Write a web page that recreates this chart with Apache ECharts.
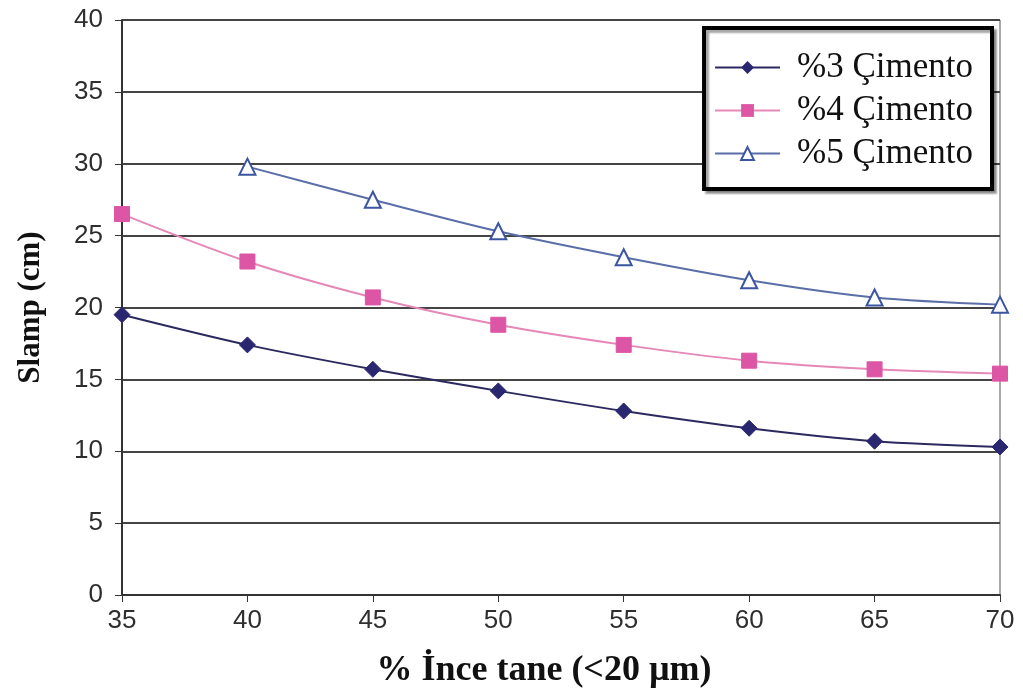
<!DOCTYPE html>
<html>
<head>
<meta charset="utf-8">
<script src="https://cdn.jsdelivr.net/npm/echarts@6/dist/echarts.min.js"></script>
<style>
html,body{margin:0;padding:0;background:#fff;}
#chart{width:1023px;height:698px;}
</style>
</head>
<body>
<div id="chart"></div>
<script>
// Fine-grain content (% < 20 µm) and measured slump (cm)
const fines = [35, 40, 45, 50, 55, 60, 65, 70];
const cement3 = [19.5, 17.4, 15.7, 14.2, 12.8, 11.6, 10.7, 10.3];
const cement4 = [26.5, 23.2, 20.7, 18.8, 17.4, 16.3, 15.7, 15.4];
const cement5 = [null, 29.8, 27.5, 25.3, 23.5, 21.9, 20.7, 20.2];
const seriesNames = ['%3 Çimento', '%4 Çimento', '%5 Çimento'];
const yTicks = [0, 5, 10, 15, 20, 25, 30, 35, 40];

const pairs = vals => fines.map((x, i) => [x, vals[i]]).filter(p => p[1] !== null);

const chart = echarts.init(document.getElementById('chart'));
chart.setOption({
  animation: false,
  backgroundColor: '#fff',
  grid: { left: 122, right: 23, top: 20, bottom: 103, show: true, borderColor: '#555', borderWidth: 1 },
  legend: {
    right: 31, top: 28,
    orient: 'vertical',
    backgroundColor: '#fff',
    borderColor: '#000',
    borderWidth: 4,
    padding: [22, 19, 18, 10],
    itemGap: 8,
    itemWidth: 65,
    itemHeight: 16,
    shadowColor: 'rgba(0,0,0,0.35)',
    shadowOffsetX: 3, shadowOffsetY: 3, shadowBlur: 2,
    textStyle: { fontFamily: 'Liberation Serif', fontSize: 35, color: '#111', padding: [0, 0, 0, 12] },
    data: seriesNames
  },
  xAxis: {
    type: 'value', min: 35, max: 70, interval: 5,
    axisLine: { lineStyle: { color: '#333', width: 2 } },
    axisTick: { show: true, length: 7, lineStyle: { color: '#333' } },
    splitLine: { show: false },
    axisLabel: { fontFamily: 'Liberation Sans', fontSize: 26, color: '#2e2e2e', margin: 13 },
    name: '% İnce tane (<20 µm)', nameLocation: 'middle', nameGap: 58,
    nameTextStyle: { fontFamily: 'Liberation Serif', fontWeight: 'bold', fontSize: 36, color: '#111', padding: [0, 34, 0, 0] }
  },
  yAxis: {
    type: 'value', min: 0, max: 40, interval: 5,
    axisLine: { show: true, lineStyle: { color: '#333', width: 2 } },
    axisTick: { show: true, length: 7, inside: false, lineStyle: { color: '#333' } },
    splitLine: { show: true, lineStyle: { color: '#444', width: 2 } },
    axisLabel: {
      fontFamily: 'Liberation Sans', fontSize: 26, color: '#2e2e2e', margin: 19,
      formatter: v => yTicks.includes(v) ? String(v) : ''
    },
    name: 'Slamp (cm)', nameLocation: 'middle', nameGap: 76, nameRotate: 90,
    nameTextStyle: { fontFamily: 'Liberation Serif', fontWeight: 'bold', fontSize: 31, color: '#111' }
  },
  series: [
    {
      name: seriesNames[0], type: 'line', smooth: 0.3, data: pairs(cement3),
      symbol: 'diamond', symbolSize: 16,
      lineStyle: { color: '#2b2a5e', width: 2 },
      itemStyle: { color: '#2a2670', borderColor: '#2a2670' }
    },
    {
      name: seriesNames[1], type: 'line', smooth: 0.3, data: pairs(cement4),
      symbol: 'rect', symbolSize: 15,
      lineStyle: { color: '#e588b8', width: 2 },
      itemStyle: { color: '#dd55a5', borderColor: '#dd55a5' }
    },
    {
      name: seriesNames[2], type: 'line', smooth: 0.3, data: pairs(cement5),
      symbol: 'triangle', symbolSize: 16,
      lineStyle: { color: '#5a6ea8', width: 2 },
      itemStyle: { color: '#fff', borderColor: '#3b55a0', borderWidth: 2 }
    }
  ]
});
</script>
</body>
</html>
